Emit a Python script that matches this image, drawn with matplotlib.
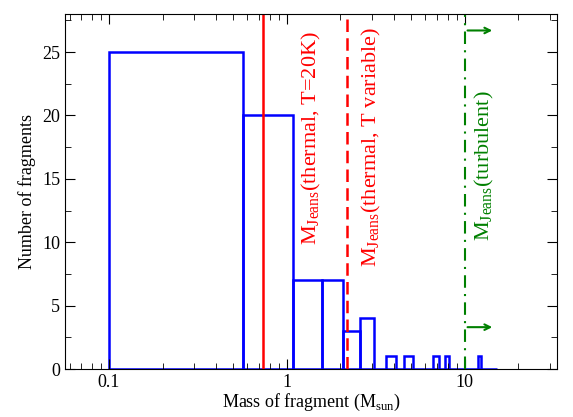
import matplotlib
matplotlib.use("Agg")
import matplotlib.pyplot as plt
from matplotlib.ticker import MultipleLocator, LogLocator, NullFormatter, FixedLocator, FixedFormatter
import numpy as np

plt.rcParams['font.family'] = ['Liberation Serif', 'DejaVu Serif']
plt.rcParams['mathtext.fontset'] = 'custom'
plt.rcParams['mathtext.rm'] = 'Liberation Serif'

edges = [0.1, 0.57, 1.08, 1.57, 2.06, 2.57, 3.08, 3.6, 4.1, 4.55, 5.1, 6.6, 7.15, 7.7, 8.2, 11.8, 12.3, 15.1]
counts = [25, 20, 7, 7, 3, 4, 0, 1, 0, 1, 0, 1, 0, 1, 0, 1, 0]
m_thermal20 = 0.73
m_thermalvar = 2.17
m_turb = 10.0

fig = plt.figure(figsize=(5.73, 4.17), dpi=100)
ax = fig.add_axes([65/573, 48/417, 492/573, 355/417])

lefts = np.array(edges[:-1]); widths = np.diff(edges)
ax.bar(lefts, counts, width=widths, align='edge', fill=False, edgecolor='#0000ff', linewidth=1.8)

ax.axvline(m_thermal20, color='red', lw=1.8)
ax.axvline(m_thermalvar, color='red', lw=1.8, ls=(0, (5, 2.5)))
ax.axvline(m_turb, color='green', lw=1.5, ls=(0, (6, 3, 1, 3)))
for y in [26.7, 3.3]:
    ax.annotate('', xy=(14.8, y), xytext=(m_turb, y),
                arrowprops=dict(arrowstyle='->', color='green', lw=1.5))

ax.text(1.38, 18.2, r'M$_{\rm Jeans}$(thermal, T=20K)', rotation=90, color='red', fontsize=16, ha='center', va='center')
ax.text(3.0, 17.5, r'M$_{\rm Jeans}$(thermal, T variable)', rotation=90, color='red', fontsize=16, ha='center', va='center')
ax.text(12.9, 16, r'M$_{\rm Jeans}$(turbulent)', rotation=90, color='green', fontsize=16, ha='center', va='center')

ax.set_xscale('log')
ax.set_xlim(0.0566, 33)
ax.set_ylim(0, 28)
ax.xaxis.set_major_locator(FixedLocator([0.1, 1, 10]))
ax.xaxis.set_major_formatter(FixedFormatter(['0.1', '1', '10']))
ax.xaxis.set_minor_locator(LogLocator(base=10, subs=np.arange(2, 10)))
ax.xaxis.set_minor_formatter(NullFormatter())
ax.yaxis.set_major_locator(MultipleLocator(5))
ax.yaxis.set_minor_locator(MultipleLocator(2.5))
ax.tick_params(which='both', direction='in', top=True, right=True, labelsize=13)
ax.tick_params(which='major', length=7)
ax.tick_params(which='minor', length=4)
ax.set_xlabel(r'Mass of fragment (M$_{\rm sun}$)', fontsize=13, labelpad=1)
ax.set_ylabel('Number of fragments', fontsize=13)
fig.savefig('out.png', dpi=100)
